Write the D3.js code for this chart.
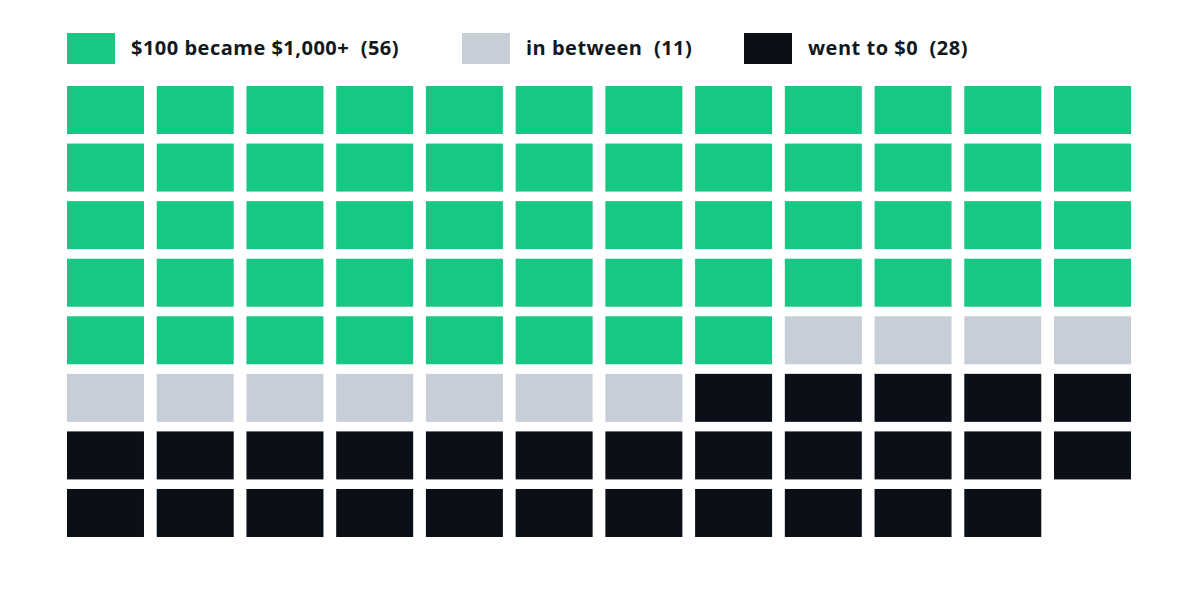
<!DOCTYPE html>
<html lang="en">
<head>
  <meta charset="utf-8">
  <script src="https://cdnjs.cloudflare.com/ajax/libs/d3/7.8.5/d3.min.js"></script>
  <style>
    body { margin: 0; background: #fff; }
    text { font-family: "Open Sans", "Noto Sans", sans-serif; font-weight: 700; white-space: pre; }
  </style>
</head>
<body>
<script>

var width = 1200,
    height = 590;

// data
var categories = ["$100 became $1,000+", "in between", "went to $0"];
var counts = [56, 11, 28];
var colors = ["#19c784", "#c8ced8", "#0b0f17"];
var legendX = [67, 462, 744];

var ncols = 12, nrows = 8;

var svg = d3.select("body").append("svg")
    .attr("width", width)
    .attr("height", height);

// one cell per unit, filled row by row
var cells = [];
categories.forEach(function(c, k) {
  for (var i = 0; i < counts[k]; i++) cells.push(k);
});

var x = d3.scaleBand()
    .domain(d3.range(ncols))
    .range([67, 1131])
    .paddingInner(0.142);

var y = d3.scaleBand()
    .domain(d3.range(nrows))
    .range([86, 537])
    .paddingInner(0.166);

svg.append("g")
  .selectAll("rect")
    .data(cells)
  .enter().append("rect")
    .attr("x", function(d, i) { return x(i % ncols); })
    .attr("y", function(d, i) { return y(Math.floor(i / ncols)); })
    .attr("width", x.bandwidth())
    .attr("height", y.bandwidth())
    .attr("fill", function(d) { return colors[d]; });

// legend
var legend = svg.append("g")
  .selectAll("g")
    .data(categories)
  .enter().append("g")
    .attr("transform", function(d, i) { return "translate(" + legendX[i] + ",33)"; });

legend.append("rect")
    .attr("width", 48)
    .attr("height", 31)
    .attr("fill", function(d, i) { return colors[i]; });

legend.append("text")
    .attr("x", 64)
    .attr("y", 21.5)
    .attr("font-size", 20)
    .attr("letter-spacing", 0.5)
    .attr("fill", "#111820")
    .text(function(d, i) { return d + "  (" + counts[i] + ")"; });

</script>
</body>
</html>
